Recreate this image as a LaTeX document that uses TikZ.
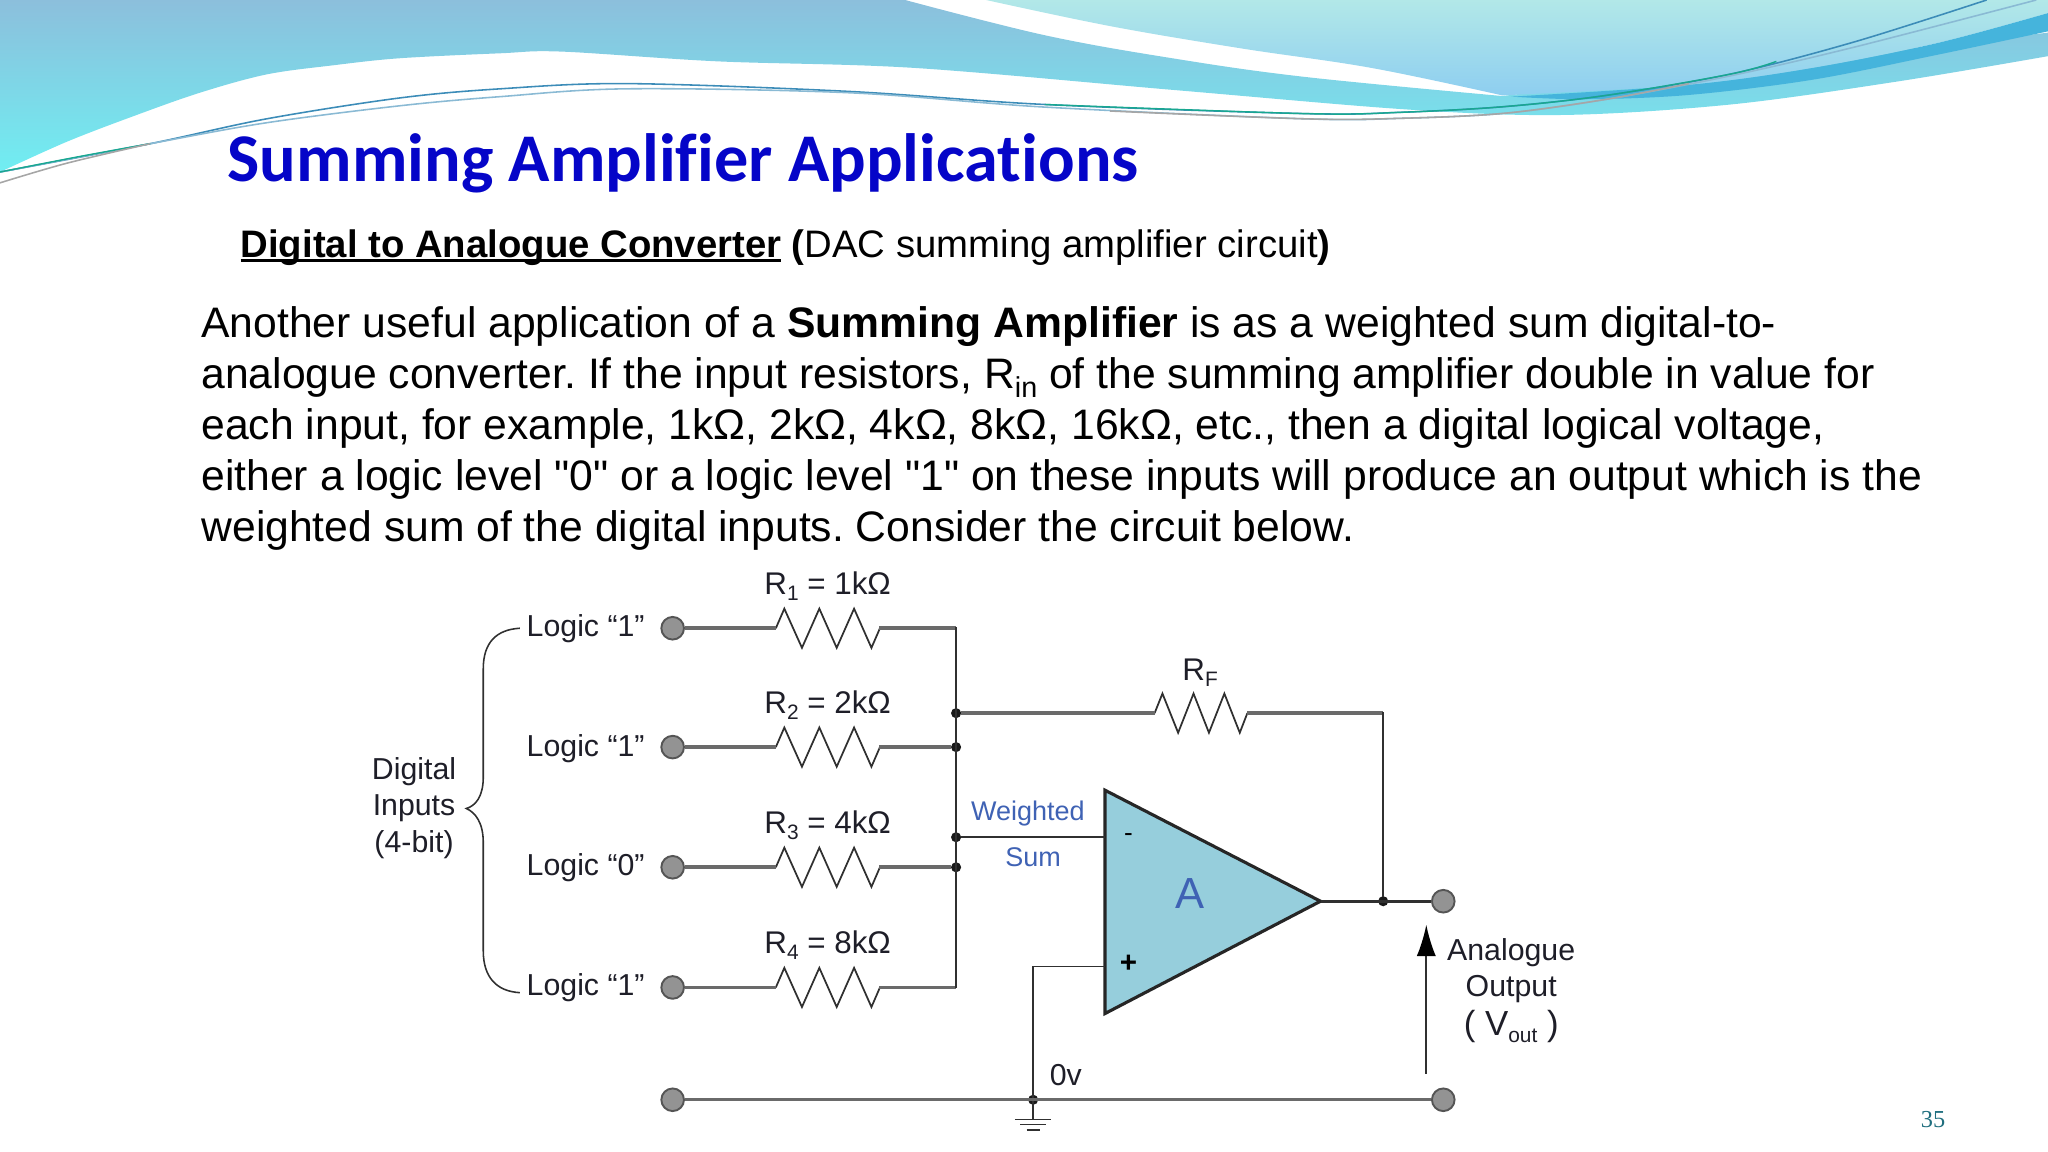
\documentclass[tikz,border=0pt]{standalone}
\usepackage{fontspec}
\setmainfont{Liberation Sans}
\newfontfamily\plainq{Liberation Sans}
\newfontfamily\titlefont[Ligatures=CommonOff]{Carlito}
\newfontfamily\numfont{Liberation Serif}
\usetikzlibrary{arrows.meta}
\definecolor{wirec}{HTML}{6A6A6A}
\definecolor{darkw}{HTML}{303030}
\definecolor{opfill}{HTML}{96CEDC}
\definecolor{labelc}{HTML}{1E1E28}
\definecolor{bluelab}{HTML}{3F62B4}
\definecolor{titlec}{HTML}{0505C8}
\definecolor{swatop}{HTML}{8CBFDC}
\definecolor{swabot}{HTML}{70EEF2}
\definecolor{swbtop}{HTML}{B2E8E8}
\definecolor{swbbot}{HTML}{8ECEF0}
\definecolor{swband}{HTML}{45B4DC}
\definecolor{lineteal}{HTML}{18A890}
\definecolor{linesteel}{HTML}{3C8CB8}
\definecolor{numc}{HTML}{1F6E7E}
\tikzset{
  x=0.75pt,y=-0.75pt,
  wire/.style={draw=wirec,line width=2.1pt},
  thinwire/.style={draw=darkw,line width=1.1pt},
  zig/.style={draw=darkw,line width=1pt,line join=miter},
  terminal/.style={circle,draw=wirec!80!black,fill=gray!85!white,line width=1.1pt,minimum size=13pt,inner sep=0pt},
  junction/.style={circle,fill=black!90,minimum size=5.8pt,inner sep=0pt},
  lab/.style={inner sep=0pt,text=labelc,font=\fontsize{17.4}{20}\selectfont},
  reslab/.style={lab,font=\fontsize{18}{20}\selectfont},
  bluetxt/.style={inner sep=0pt,text=bluelab,font=\fontsize{15.5}{18}\selectfont},
  body/.style={anchor=base west,inner sep=0pt,text=black,font=\fontsize{24.5}{28}\selectfont\frenchspacing},
}
\newcommand{\zigzag}[1]{\draw[zig] (#1) -- ++(6.5,-15) -- ++(13.5,30) -- ++(13.3,-30) -- ++(13.3,30) -- ++(13.3,-30) -- ++(13.3,30) -- ++(6.5,-15);}
\newcommand{\sbs}[1]{\raisebox{-0.2em}{\fontsize{12}{12}\selectfont #1}}
\newcommand{\ulx}[1]{\setbox0=\hbox{#1}\rlap{\rule[-2.8pt]{\wd0}{1.6pt}}\box0\relax}
\begin{document}
\begin{tikzpicture}
\path[use as bounding box] (0,0) rectangle (1568,882);
% background swooshes
\path[top color=swatop,bottom color=swabot] (0,0) -- (693,0)
  -- plot[smooth,tension=0.6] coordinates {(693,0) (800,27) (900,45) (1000,59) (1150,73.5)}
  -- (1568,25) -- (1568,43)
  -- plot[smooth,tension=0.55] coordinates {(1568,43) (1452,62.5) (1325,80) (1198,88) (1080,84) (900,69) (700,52) (550,47) (430,39.5) (383,40.8) (306,44.6) (255,50) (204,57) (153,71) (102,89) (51,108.6) (0,131.7)}
  -- cycle;
\path[top color=swbtop,bottom color=swbbot] (755,0)
  -- plot[smooth,tension=0.6] coordinates {(755,0) (850,20) (950,37) (1050,52) (1150,73)}
  -- plot[smooth,tension=0.55] coordinates {(1150,73) (1293,65) (1388,52) (1483,33) (1568,10)}
  -- (1568,0) -- cycle;
\path[fill=swband] (1157,74)
  -- plot[smooth,tension=0.55] coordinates {(1157,74) (1293,65) (1388,52) (1483,33) (1568,10)}
  -- (1568,24)
  -- plot[smooth,tension=0.55] coordinates {(1568,24) (1483,42) (1388,61) (1293,72.7) (1214,76) (1157,74)}
  -- cycle;
% thin lines
\draw[linesteel,line width=0.9pt] plot[smooth,tension=0.55] coordinates {(0,131.7) (115,110) (204,91) (306,75) (383,68) (480,64) (650,70) (800,80) (1000,87) (1072,86) (1151,81.7) (1230,73) (1325,56.7) (1420,32) (1521,0)};
\draw[linesteel!60!white,line width=0.9pt] plot[smooth,tension=0.55] coordinates {(0,131.7) (115,110) (204,94) (306,81) (383,74) (480,68) (650,71) (800,82) (1000,91) (1072,90.6) (1151,86.8) (1230,76) (1325,58) (1420,36) (1559,0)};
\draw[lineteal,line width=0.8pt] plot[smooth,tension=0.55] coordinates {(0,131.7) (60,120) (115,110)};
\draw[lineteal,line width=0.8pt] plot[smooth,tension=0.55] coordinates {(800,80) (1000,87) (1072,86) (1151,81.7) (1230,73) (1325,56.7) (1360,47)};
\draw[gray!70,line width=0.9pt] plot[smooth,tension=0.55] coordinates {(0,140) (51,125) (115,110)};
\draw[gray!70,line width=0.9pt] plot[smooth,tension=0.55] coordinates {(850,85) (1000,91) (1072,90.6) (1151,86.8) (1230,76) (1293,64)};
% title and text
\node[anchor=base west,inner sep=0pt,text=titlec,font=\titlefont\bfseries\fontsize{39.2}{42}\selectfont] (title) at (174,139) {Summing Amplifier Applications};
\node[body,font=\fontsize{22}{26}\selectfont] (sub) at (184,197) {\textbf{\ulx{Digital to Analogue Converter} (}DAC summing amplifier circuit\textbf{)}};
\node[body] (l1) at (154,258.5) {Another useful application of a \textbf{Summing Amplifier} is as a weighted sum digital-to-};
\node[body] (l2) at (154,297.5) {analogue converter. If the input resistors, R\raisebox{-0.22em}{\fontsize{16.5}{18}\selectfont in} of the summing amplifier double in value for};
\node[body] (l3) at (154,336.5) {each input, for example, 1kΩ, 2kΩ, 4kΩ, 8kΩ, 16kΩ, etc., then a digital logical voltage,};
\node[body] (l4) at (154,375.5) {either a logic level {\plainq"0"} or a logic level {\plainq"1"} on these inputs will produce an output which is the};
\node[body] (l5) at (154,414.5) {weighted sum of the digital inputs. Consider the circuit below.};
% opamp
\coordinate (oa) at (846,605);
\coordinate (ob) at (846,776);
\coordinate (oc) at (1011,690);
\draw[fill=opfill,draw=black!85,line width=1.8pt,line join=miter] (oa) -- (oc) -- (ob) -- cycle;
% terminals
\node[terminal] (t1) at (515,481) {};
\node[terminal] (t2) at (515,572) {};
\node[terminal] (t3) at (515,664) {};
\node[terminal] (t4) at (515,756) {};
\node[terminal] (t5) at (515,842) {};
\node[terminal] (tout) at (1105,690) {};
\node[terminal] (tgnd) at (1105,842) {};
% junctions
\node[junction] (jf) at (732,546) {};
\node[junction] (j2) at (732,572) {};
\node[junction] (js) at (732,641) {};
\node[junction] (j3) at (732,664) {};
\node[junction] (jo) at (1059,690) {};
\node[junction] (jg) at (791,842) {};
\coordinate (btop) at (732,481);
\coordinate (bbot) at (732,756);
\coordinate (rfc) at (1059,546);
\coordinate (inm) at (846,641);
\coordinate (inp) at (846,740);
\coordinate (inpc) at (791,740);
\coordinate (gnd) at (791,857);
% resistors
\coordinate (r1l) at (594,481); \coordinate (r1r) at (673,481);
\coordinate (r2l) at (594,572); \coordinate (r2r) at (673,572);
\coordinate (r3l) at (594,664); \coordinate (r3r) at (673,664);
\coordinate (r4l) at (594,756); \coordinate (r4r) at (673,756);
\coordinate (rfl) at (884,546); \coordinate (rfr) at (955,546);
\zigzag{r1l}\zigzag{r2l}\zigzag{r3l}\zigzag{r4l}
\draw[zig] (rfl) -- ++(6,-15) -- ++(12,30) -- ++(11.8,-30) -- ++(11.8,30) -- ++(11.8,-30) -- ++(11.8,30) -- ++(5.8,-15);
% wires
\draw[wire] (t1) -- (r1l);
\draw[wire] (t2) -- (r2l);
\draw[wire] (t3) -- (r3l);
\draw[wire] (t4) -- (r4l);
\draw[wire] (r1r) -- (btop);
\draw[wire] (r2r) -- (j2);
\draw[wire] (r3r) -- (j3);
\draw[wire] (r4r) -- (bbot);
\draw[thinwire,line cap=rect] (btop) -- (bbot);
\draw[wire] (jf) -- (rfl);
\draw[wire] (rfr) -- (rfc);
\draw[thinwire,line cap=rect] (rfc) -- (jo);
\draw[thinwire] (js) -- (inm);
\draw[thinwire] (inp) -- (inpc) -- (gnd);
\draw[thinwire,line width=1.5pt] (oc) -- (tout);
\draw[wire,line width=1.8pt] (t5) -- (tgnd);
% ground symbol
\coordinate (g1a) at (777,857); \coordinate (g1b) at (805,857);
\coordinate (g2a) at (781,861); \coordinate (g2b) at (801,861);
\coordinate (g3a) at (786,865); \coordinate (g3b) at (796,865);
\draw[thinwire,line width=0.8pt] (g1a) -- (g1b);
\draw[thinwire,line width=0.8pt] (g2a) -- (g2b);
\draw[thinwire,line width=1pt] (g3a) -- (g3b);
% output arrow
\coordinate (as) at (1092,822);
\coordinate (ae) at (1092,708);
\draw[draw=darkw,line width=1pt,-{Latex[length=18pt,width=11pt,black]}] (as) -- (ae);
% brace
\coordinate (bra) at (398,481);
\coordinate (brb) at (398,760);
\coordinate (brt) at (357,619);
\draw[darkw,line width=0.9pt] (bra) .. controls (380,482) and (370,492) .. (370,512) -- (370,595) .. controls (370,610) and (364,617) .. (brt) .. controls (364,622) and (370,630) .. (370,645) -- (370,728) .. controls (370,748) and (380,759) .. (brb);
% labels
\node[lab,anchor=west] (n1) at (403,481) {Logic “1”};
\node[lab,anchor=west] (n2) at (403,573) {Logic “1”};
\node[lab,anchor=west] (n3) at (403,664) {Logic “0”};
\node[lab,anchor=west] (n4) at (403,756) {Logic “1”};
\node[lab] (d1) at (317,591) {Digital};
\node[lab] (d2) at (317,619) {Inputs};
\node[lab] (d3) at (317,647) {(4-bit)};
\node[reslab,anchor=base west] (v1) at (585,455) {R\sbs{1} = 1kΩ};
\node[reslab,anchor=base west] (v2) at (585,546) {R\sbs{2} = 2kΩ};
\node[reslab,anchor=base west] (v3) at (585,638) {R\sbs{3} = 4kΩ};
\node[reslab,anchor=base west] (v4) at (585,730) {R\sbs{4} = 8kΩ};
\node[reslab,anchor=base west] (vf) at (905,521) {R\sbs{F}};
\node[bluetxt] (w1) at (787,623) {Weighted};
\node[bluetxt] (w2) at (791,656) {Sum};
\node[inner sep=0pt,text=bluelab,font=\fontsize{25}{28}\selectfont] (amp) at (911,684) {A};
\node[inner sep=0pt,text=black,font=\fontsize{15}{16}\selectfont] (mi) at (864,641) {-};
\node[inner sep=0pt,text=black,font=\bfseries\fontsize{17}{18}\selectfont] (pl) at (864,738) {+};
\node[lab] (a1) at (1157,729) {Analogue};
\node[lab] (a2) at (1157,757) {Output};
\node[lab,font=\fontsize{20}{22}\selectfont] (a3) at (1157,786) {( V\sbs{out} )};
\node[lab] (zv) at (816,823) {0v};
\node[inner sep=0pt,text=numc,font=\numfont\fontsize{14}{16}\selectfont] (pn) at (1480,857) {35};
\end{tikzpicture}
\end{document}
